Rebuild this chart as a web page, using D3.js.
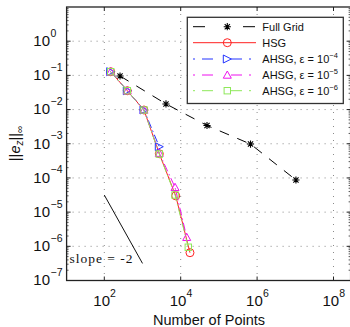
<!DOCTYPE html>
<html><head><meta charset="utf-8">
<script src="https://cdn.jsdelivr.net/npm/d3@7"></script>
<style>body{margin:0;background:#fff}svg{display:block}</style>
</head><body><svg id="c" width="350" height="327"></svg>
<script>
// ---- data ----
const fullGridN   = [258, 4120, 48800, 672000, 1.04e7];
const fullGridErr = [0.096, 0.0146, 3.42e-3, 9.8e-4, 8.7e-5];
const hsgN        = [147, 400, 1094, 2754, 7400, 17500];
const hsgErr      = [0.128, 0.0356, 0.0097, 5.1e-4, 3.0e-5, 6.5e-7];
const ahsg4N      = [147, 400, 1094, 2754];
const ahsg4Err    = [0.128, 0.0356, 0.0097, 8.2e-4];
const ahsg5N      = [147, 400, 1094, 2754, 7100, 14360];
const ahsg5Err    = [0.128, 0.0356, 0.0097, 5.3e-4, 5.33e-5, 1.84e-6];
const ahsg6N      = [147, 400, 1094, 2754, 7100, 15800];
const ahsg6Err    = [0.128, 0.0356, 0.0097, 5.0e-4, 3.17e-5, 9.4e-7];
const slopeN      = [100, 1000];
const slopeErr    = [3.16e-5, 3.16e-7];
const xTickValues = [1e2, 1e4, 1e6, 1e8];
const xTickExps   = ["2", "4", "6", "8"];
const yTickValues = [1e0, 1e-1, 1e-2, 1e-3, 1e-4, 1e-5, 1e-6, 1e-7];
const yTickExps   = ["0", "\u22121", "\u22122", "\u22123", "\u22124", "\u22125", "\u22126", "\u22127"];
const seriesNames = ["Full Grid", "HSG", "AHSG, \u03b5 = 10", "AHSG, \u03b5 = 10", "AHSG, \u03b5 = 10"];
const seriesSup   = ["", "", "\u22124", "\u22125", "\u22126"];

// ---- layout ----
const L = 66.6, R = 350.6, T = 7, B = 280.5;
const x = d3.scaleLog().domain([10, Math.pow(10, 1 + (R - 66.1) / 38.2)]).range([66.1, R]);
const y = d3.scaleLog().domain([1e-7, 10]).range([B, T]);
const svg = d3.select("#c");
const font = "'Liberation Sans', Arial, Helvetica, sans-serif";

// grid
const g = svg.append("g");
g.selectAll("line.gy").data(yTickValues.filter(v => v < 10 && v > 1e-7)).join("line")
  .attr("x1", L).attr("x2", R).attr("y1", d => y(d)).attr("y2", d => y(d))
  .attr("stroke", "#8a8a8a").attr("stroke-width", 1).attr("stroke-dasharray", "1,5");
g.selectAll("line.gx").data(xTickValues).join("line")
  .attr("x1", d => x(d)).attr("x2", d => x(d)).attr("y1", T).attr("y2", B)
  .attr("stroke", "#8a8a8a").attr("stroke-width", 1).attr("stroke-dasharray", "1,6");

// minor y ticks
const minors = [];
for (let e = -7; e < 1; e++) for (let k = 2; k <= 9; k++) minors.push(k * Math.pow(10, e));
g.selectAll("line.my").data(minors).join("line")
  .attr("x1", L).attr("x2", L + 2).attr("y1", d => y(d)).attr("y2", d => y(d))
  .attr("stroke", "#333").attr("stroke-width", 0.8);
g.selectAll("line.myr").data(minors).join("line")
  .attr("x1", R - 2).attr("x2", R).attr("y1", d => y(d)).attr("y2", d => y(d))
  .attr("stroke", "#333").attr("stroke-width", 0.8);
// major ticks
g.selectAll("line.ty").data(yTickValues).join("line")
  .attr("x1", L).attr("x2", L + 4).attr("y1", d => y(d)).attr("y2", d => y(d))
  .attr("stroke", "#222").attr("stroke-width", 1);
g.selectAll("line.tyr").data(yTickValues).join("line")
  .attr("x1", R - 4).attr("x2", R).attr("y1", d => y(d)).attr("y2", d => y(d))
  .attr("stroke", "#222").attr("stroke-width", 1);
g.selectAll("line.tx").data(xTickValues).join("line")
  .attr("x1", d => x(d)).attr("x2", d => x(d)).attr("y1", B).attr("y2", B - 4)
  .attr("stroke", "#222").attr("stroke-width", 1);
g.selectAll("line.txt").data(xTickValues).join("line")
  .attr("x1", d => x(d)).attr("x2", d => x(d)).attr("y1", T).attr("y2", T + 4)
  .attr("stroke", "#222").attr("stroke-width", 1);

// frame
svg.append("rect").attr("x", L).attr("y", T).attr("width", R - L).attr("height", B - T)
  .attr("fill", "none").attr("stroke", "#222").attr("stroke-width", 1.3);

// tick labels
const yl = svg.append("g").attr("font-family", font).attr("fill", "#111");
yTickValues.forEach((v, i) => {
  const t = yl.append("text").attr("x", 50).attr("y", y(v) + 4.8).attr("font-size", 15).attr("text-anchor", "end").text("10");
  yl.append("text").attr("x", 50.5).attr("y", y(v) - 4.5).attr("font-size", 10.5).text(yTickExps[i]);
});
xTickValues.forEach((v, i) => {
  const cx = x(v);
  yl.append("text").attr("x", cx - 11).attr("y", 305.7).attr("font-size", 15).text("10");
  yl.append("text").attr("x", cx + 5.8).attr("y", 296.5).attr("font-size", 10.5).text(xTickExps[i]);
});
// axis labels
yl.append("text").attr("x", 209).attr("y", 325).attr("font-size", 14.5).attr("text-anchor", "middle").text("Number of Points");
const ylab = yl.append("text").attr("transform", "translate(20,143.5) rotate(-90)")
  .attr("font-size", 14.5).attr("text-anchor", "middle");
ylab.append("tspan").text("||");
ylab.append("tspan").attr("font-style", "italic").text("e");
ylab.append("tspan").attr("font-size", 10).attr("dy", 3).attr("font-style", "italic").text("z");
ylab.append("tspan").attr("dy", -3).text("||");
ylab.append("tspan").attr("font-size", 10).attr("dy", 3).text("\u221e");

// markers
function marker(sel, type, color, cx, cy) {
  const r = 4;
  if (type === "star") {
    const a = 3.6, b = 2.6;
    const p = `M${cx - a},${cy}L${cx + a},${cy}M${cx},${cy - a}L${cx},${cy + a}M${cx - b},${cy - b}L${cx + b},${cy + b}M${cx - b},${cy + b}L${cx + b},${cy - b}`;
    sel.append("path").attr("d", p).attr("stroke", color).attr("stroke-width", 1.1).attr("fill", "none");
  } else if (type === "circle") {
    sel.append("circle").attr("cx", cx).attr("cy", cy).attr("r", r).attr("fill", "none").attr("stroke", color).attr("stroke-width", 1);
  } else if (type === "tright") {
    sel.append("path").attr("d", `M${cx + r},${cy}L${cx - r},${cy - r}L${cx - r},${cy + r}Z`).attr("fill", "none").attr("stroke", color).attr("stroke-width", 1);
  } else if (type === "tup") {
    sel.append("path").attr("d", `M${cx},${cy - r}L${cx + r},${cy + r * 0.8}L${cx - r},${cy + r * 0.8}Z`).attr("fill", "none").attr("stroke", color).attr("stroke-width", 1);
  } else if (type === "square") {
    sel.append("rect").attr("x", cx - 3.2).attr("y", cy - 3.2).attr("width", 6.4).attr("height", 6.4).attr("fill", "none").attr("stroke", color).attr("stroke-width", 1);
  }
}

const series = [
  {n: fullGridN, e: fullGridErr, color: "#000", dash: "10,9", mk: "star"},
  {n: hsgN, e: hsgErr, color: "#ff2020", dash: null, mk: "circle"},
  {n: ahsg4N, e: ahsg4Err, color: "#2233ff", dash: "8,3,1.5,3", mk: "tright"},
  {n: ahsg5N, e: ahsg5Err, color: "#ee11ee", dash: "8,3,1.5,3", mk: "tup"},
  {n: ahsg6N, e: ahsg6Err, color: "#8ee85a", dash: "8,3,1.5,3", mk: "square"}
];
const line = d3.line().x(d => x(d[0])).y(d => y(d[1]));
const plot = svg.append("g");
series.forEach(s => {
  const pts = s.n.map((v, i) => [v, s.e[i]]);
  plot.append("path").attr("d", line(pts)).attr("fill", "none").attr("stroke", s.color)
    .attr("stroke-width", 1).attr("stroke-dasharray", s.dash);
  pts.forEach(p => marker(plot, s.mk, s.color, x(p[0]), y(p[1])));
});

// slope reference
plot.append("path").attr("d", line(slopeN.map((v, i) => [v, slopeErr[i]])))
  .attr("stroke", "#111").attr("stroke-width", 1).attr("fill", "none");
svg.append("text").attr("x", 69.5).attr("y", 263).attr("font-family", "'Liberation Serif', 'DejaVu Serif', serif")
  .attr("font-size", 13.5).attr("textLength", 63).attr("lengthAdjust", "spacing").attr("fill", "#111").text("slope = -2");

// legend
const lg = svg.append("g");
lg.append("rect").attr("x", 187.3).attr("y", 17.3).attr("width", 156).attr("height", 86.2)
  .attr("fill", "#fff").attr("stroke", "#333").attr("stroke-width", 1.3);
const rowY = [26.7, 42.7, 59.0, 75.0, 90.7];
const legDash = ["12,38,12,100", null, "2,7,11,18,11,7,2,100", "2,7,11,18,11,7,2,100", "2,7,11,18,11,7,2,100"];
series.forEach((s, i) => {
  const yy = rowY[i];
  lg.append("line").attr("x1", 193).attr("x2", 256).attr("y1", yy).attr("y2", yy)
    .attr("stroke", s.color).attr("stroke-width", 1).attr("stroke-dasharray", legDash[i]);
  marker(lg, s.mk, s.color, 227.3, yy);
  const t = lg.append("text").attr("x", 262.3).attr("y", yy + 4).attr("font-family", font)
    .attr("font-size", 11).attr("fill", "#111");
  t.append("tspan").text(seriesNames[i]);
  if (seriesSup[i]) t.append("tspan").attr("font-size", 7.5).attr("dy", -5).text(seriesSup[i]);
});
</script></body></html>
